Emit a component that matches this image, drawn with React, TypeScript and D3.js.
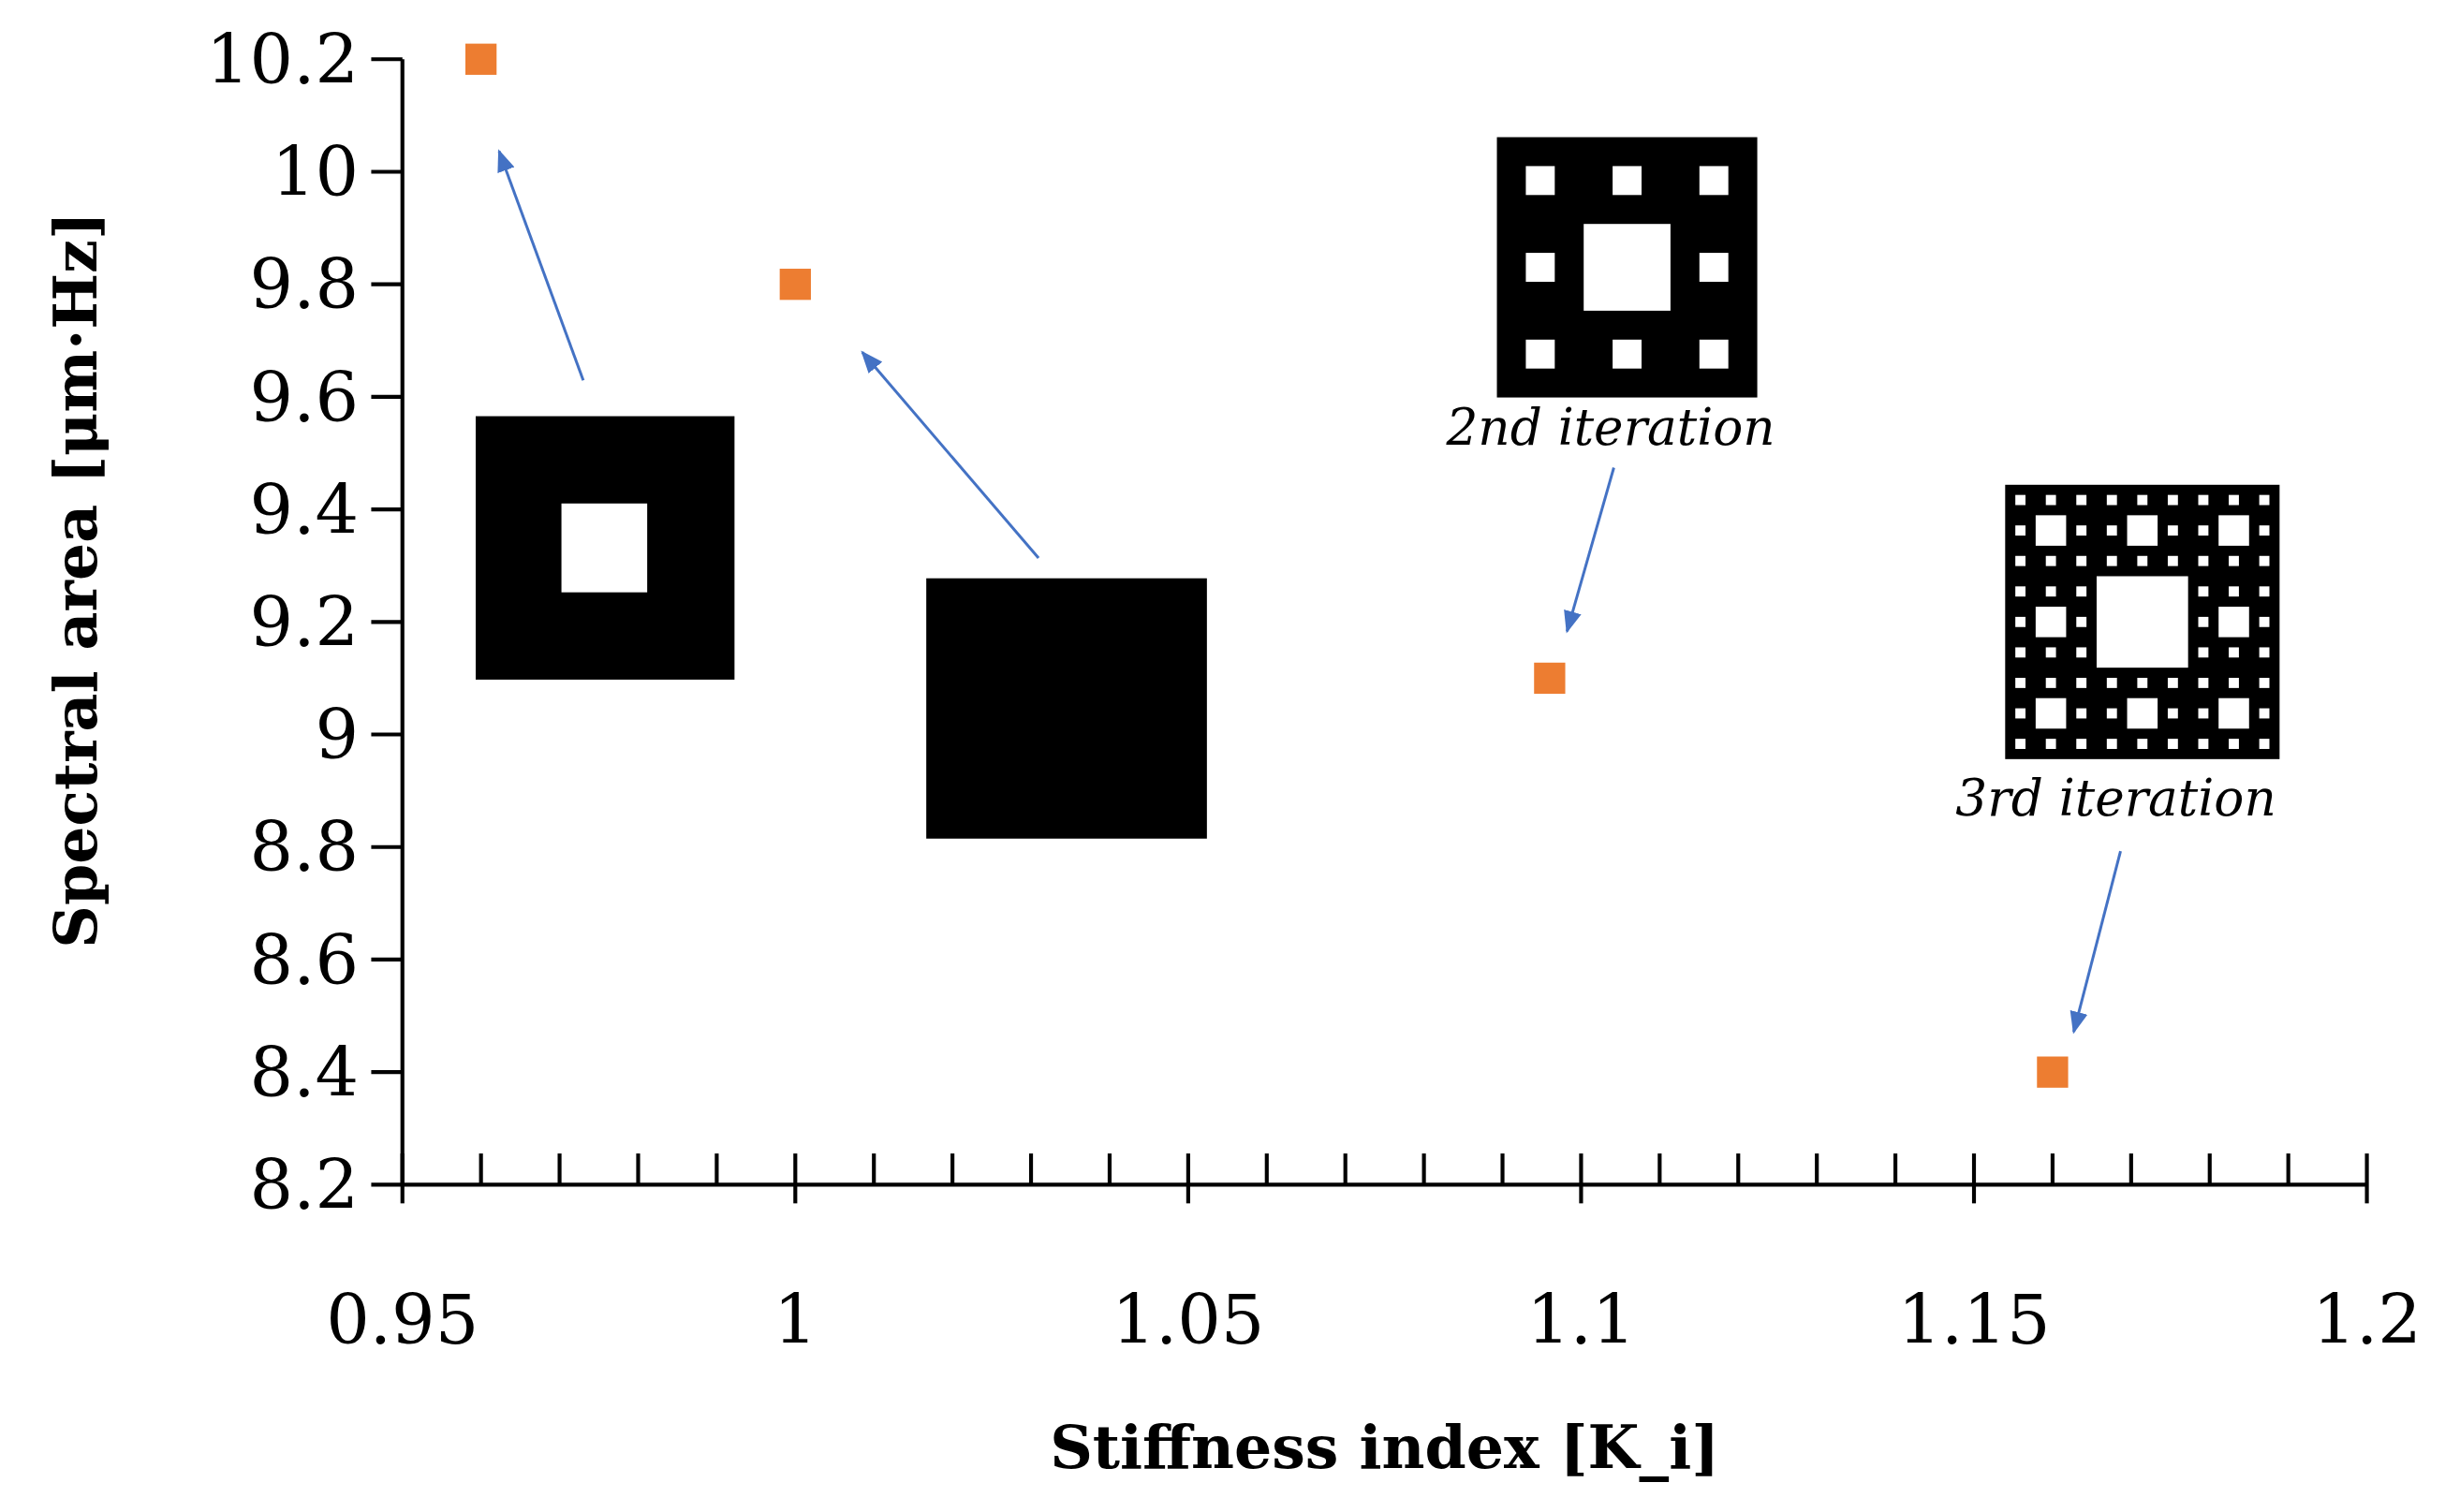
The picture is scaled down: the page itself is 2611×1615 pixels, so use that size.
import React from 'react';
import * as d3 from 'd3';

const stiffness = [0.96, 1.0, 1.096, 1.16];
const spectralArea = [10.2, 9.8, 9.1, 8.4];
const xTicks = [0.95, 1, 1.05, 1.1, 1.15, 1.2];
const yTicks = [8.2, 8.4, 8.6, 8.8, 9, 9.2, 9.4, 9.6, 9.8, 10, 10.2];

// layout in a 1568x970 view box, scaled to the page
const W = 1568, H = 970;
const x = d3.scaleLinear().domain([0.95, 1.2]).range([258, 1518]);
const y = d3.scaleLinear().domain([8.2, 10.2]).range([760, 38]);
const minorX = d3.range(0, 26).map(i => 0.95 + i * 0.01);
const font = '"DejaVu Serif", "Liberation Serif", serif';
const blue = '#4472C4';

function carpet(x0: number, y0: number, s: number, depth: number, out: JSX.Element[], key = 'c') {
  if (depth === 0) return;
  const t = s / 3;
  out.push(<rect key={key} x={x0 + t} y={y0 + t} width={t} height={t} fill="white" />);
  for (let i = 0; i < 3; i++)
    for (let j = 0; j < 3; j++)
      if (!(i === 1 && j === 1)) carpet(x0 + i * t, y0 + j * t, t, depth - 1, out, `${key}${i}${j}`);
}

function Carpet({ x0, y0, s, depth }: { x0: number; y0: number; s: number; depth: number }) {
  const holes: JSX.Element[] = [];
  carpet(x0, y0, s, depth, holes);
  return (<g><rect x={x0} y={y0} width={s} height={s} fill="black" />{holes}</g>);
}

const arrows = [
  [374, 244, 320, 97],
  [666, 358, 553, 226],
  [1035, 300, 1005, 405],
  [1360, 546, 1330, 662],
];

export default function App() {
  return (
    <svg width={2611} height={1615} viewBox={`0 0 ${W} ${H}`} style={{ position: 'absolute', left: 0, top: 0, background: 'white' }}>
      <defs>
        <marker id="ah" viewBox="0 0 10 10" refX="9" refY="5" markerWidth="8" markerHeight="8" orient="auto">
          <path d="M0,1 L10,5 L0,9 Z" fill={blue} />
        </marker>
      </defs>
      {/* axes */}
      <line x1={x(0.95)} x2={x(0.95)} y1={y(10.2)} y2={y(8.2)} stroke="black" strokeWidth={2.5} />
      <line x1={x(0.95)} x2={x(1.2)} y1={y(8.2)} y2={y(8.2)} stroke="black" strokeWidth={2.5} />
      {yTicks.map(t => (
        <g key={t}>
          <line x1={x(0.95) - 20} x2={x(0.95)} y1={y(t)} y2={y(t)} stroke="black" strokeWidth={2.5} />
          <text x={x(0.95) - 28} y={y(t)} dy="0.35em" textAnchor="end" fontFamily={font} fontSize={44}>{t}</text>
        </g>
      ))}
      {minorX.map((t, i) => (
        <line key={i} x1={x(t)} x2={x(t)} y1={y(8.2) - 20} y2={y(8.2) + (i % 5 === 0 ? 12 : 0)} stroke="black" strokeWidth={2.5} />
      ))}
      {xTicks.map(t => (
        <text key={t} x={x(t)} y={862} textAnchor="middle" fontFamily={font} fontSize={44}>{t}</text>
      ))}
      <text x={888} y={942} textAnchor="middle" fontFamily={font} fontSize={38} fontWeight="bold">Stiffness index [K_i]</text>
      <text transform="translate(62,372) rotate(-90)" textAnchor="middle" fontFamily={font} fontSize={38} fontWeight="bold">Spectral area [μm·Hz]</text>
      {/* inset shapes */}
      <rect x={305} y={267} width={166} height={169} fill="black" />
      <rect x={360} y={323} width={55} height={57} fill="white" />
      <rect x={594} y={371} width={180} height={167} fill="black" />
      <Carpet x0={960} y0={88} s={167} depth={2} />
      <Carpet x0={1286} y0={311} s={176} depth={3} />
      <text x={1033} y={285} textAnchor="middle" fontFamily={font} fontStyle="italic" fontSize={32}>2nd iteration</text>
      <text x={1357} y={523} textAnchor="middle" fontFamily={font} fontStyle="italic" fontSize={32}>3rd iteration</text>
      {arrows.map((a, i) => (
        <line key={i} x1={a[0]} y1={a[1]} x2={a[2]} y2={a[3]} stroke={blue} strokeWidth={1.8} markerEnd="url(#ah)" />
      ))}
      {/* points */}
      {stiffness.map((s, i) => (
        <rect key={i} x={x(s) - 10} y={y(spectralArea[i]) - 10} width={20} height={20} fill="#ED7D31" />
      ))}
    </svg>
  );
}
